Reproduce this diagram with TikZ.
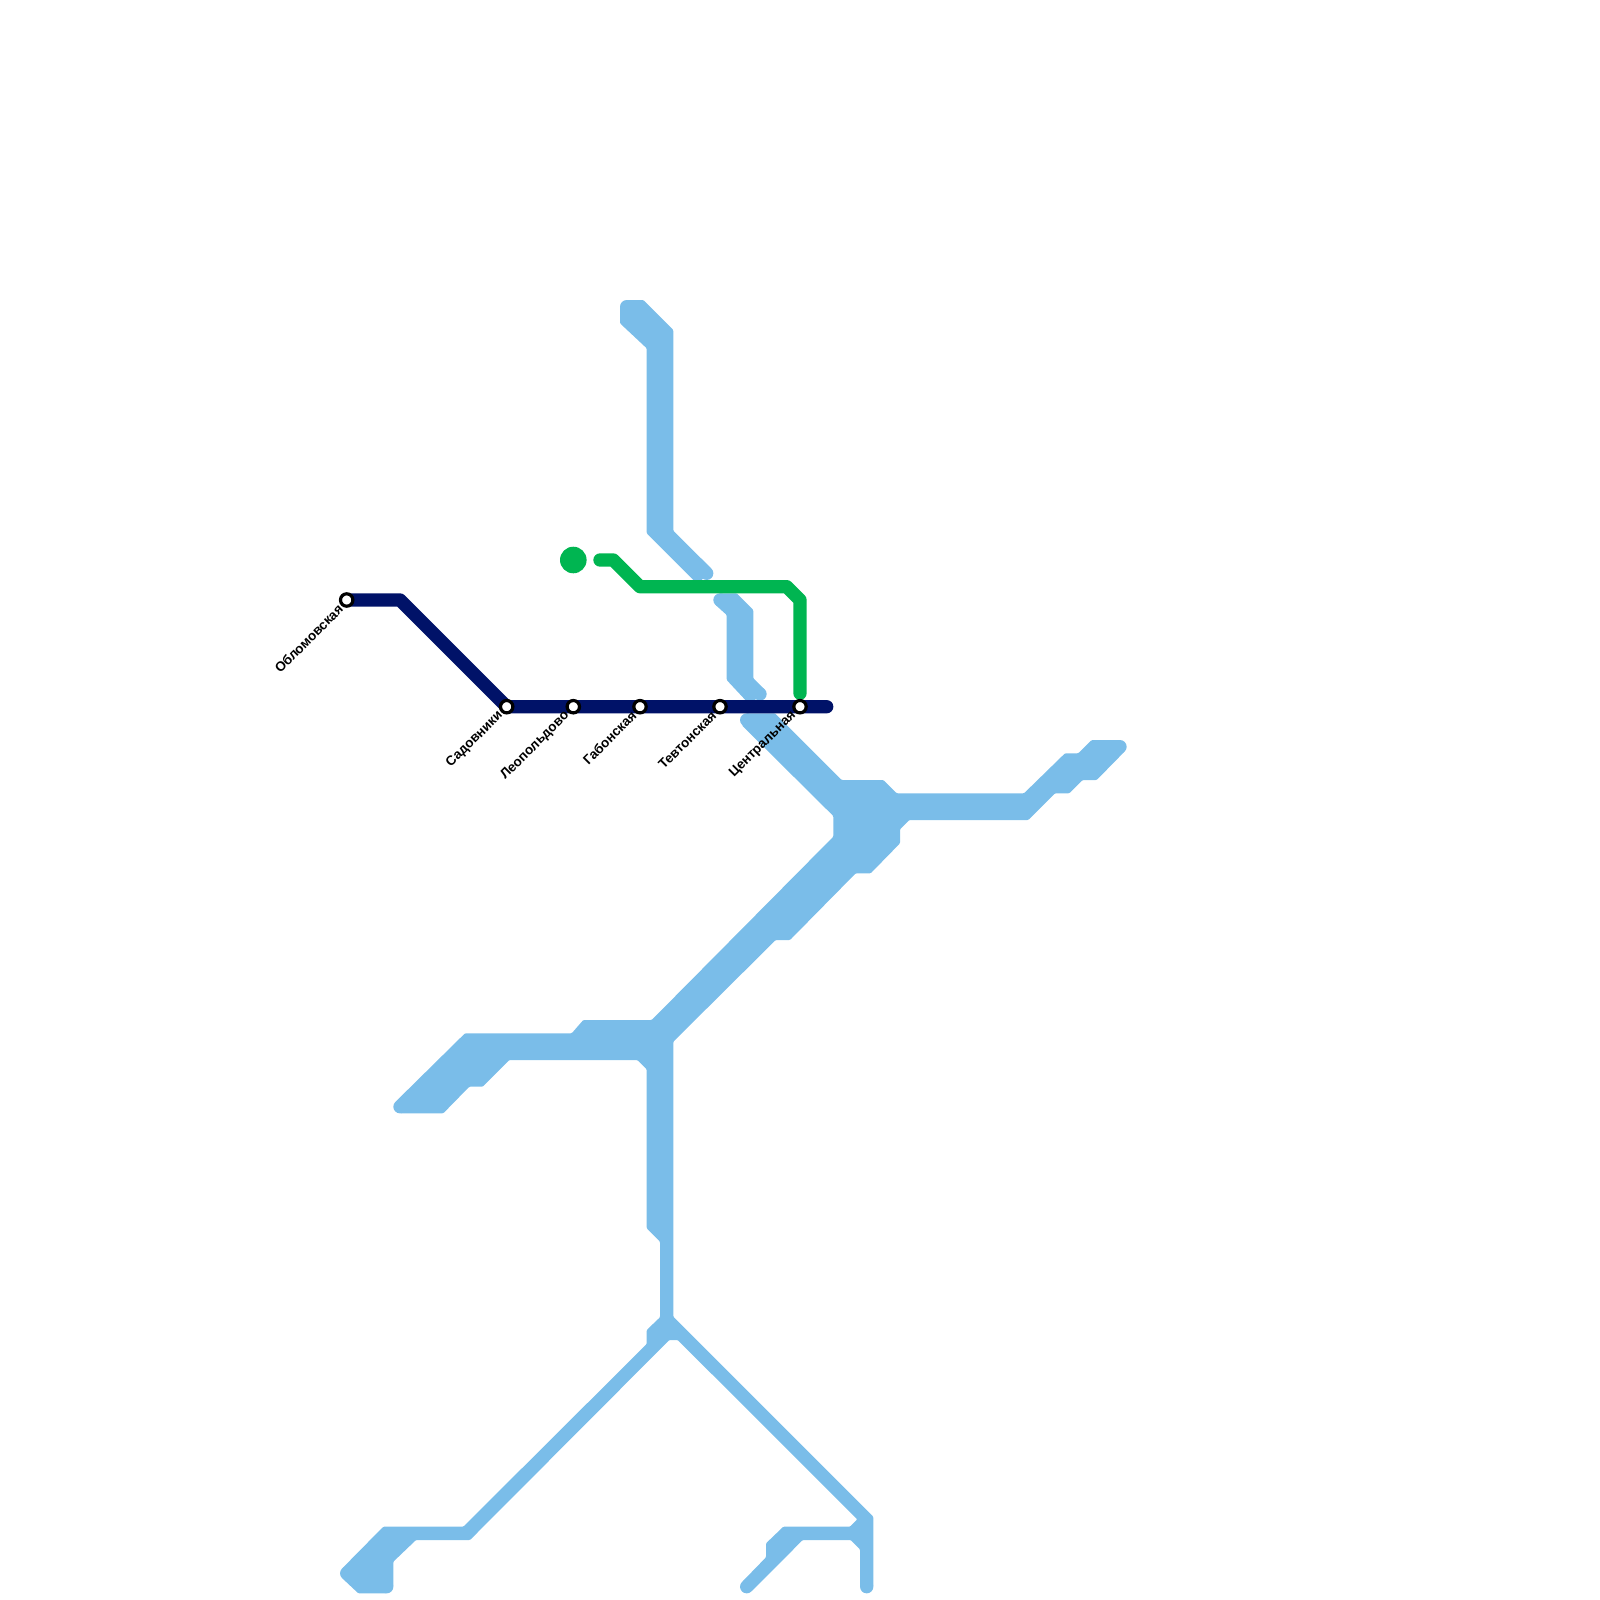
\documentclass[tikz,border=0pt]{standalone}
\usepackage{fontspec}
\setmainfont{Liberation Sans}
\usepackage{xcolor}
\usepackage{tikz}
\usetikzlibrary{positioning, backgrounds}
\definecolor{skyblue}{RGB}{122, 189, 233}
\definecolor{navyline}{RGB}{0, 18, 104}
\definecolor{greenline}{RGB}{0, 181, 81}
\tikzset{
  bluearea/.style={fill=skyblue, rounded corners=1pt},
  navyroute/.style={draw=navyline, line width=13.33pt, line cap=round, line join=round},
  greenroute/.style={draw=greenline, line width=13.33pt, line cap=round, line join=round},
  stationdot/.style={circle, draw=black, fill=white, line width=3.2pt,
              minimum size=12.4pt, inner sep=0pt},
  stationlabel/.style={anchor=east, rotate=45, inner sep=0pt, xshift=-9pt, yshift=-0.5pt,
              font=\fontsize{13.4}{14}\selectfont\bfseries},
}
\begin{document}
\begin{tikzpicture}[x=1pt, y=-1pt]
  \useasboundingbox (0,0) rectangle (1600,1600);
  % Stations
  \node[stationdot] (oblomov) at (346.7,600) {};
  \node[stationdot] (sadovniki) at (506.7,706.7) {};
  \node[stationdot] (leopold) at (573.3,706.7) {};
  \node[stationdot] (gabon) at (640,706.7) {};
  \node[stationdot] (teuton) at (720,706.7) {};
  \node[stationdot] (central) at (800,706.7) {};
  % Labels
  \node[stationlabel] (oblomovlabel) at (oblomov) {Обломовская};
  \node[stationlabel] (sadovnikilabel) at (sadovniki) {Садовники};
  \node[stationlabel] (leopoldlabel) at (leopold) {Леопольдово};
  \node[stationlabel] (gabonlabel) at (gabon) {Габонская};
  \node[stationlabel] (teutonlabel) at (teuton) {Тевтонская};
  \node[stationlabel] (centrallabel) at (central) {Центральная};
  \begin{scope}[on background layer]
  % Blue network
  \fill[bluearea] (626.7,300) -- (643.3,300) -- (673.3,330) -- (673.3,530.7) -- (711.4,568.6)
    -- (700,582) -- (695,581.6) -- (646.7,533.3) -- (646.7,348.3) -- (620,323.3) -- (620,306.7) -- cycle;
  \fill[bluearea] (720,593.3) -- (736.7,593.3) -- (753.3,610) -- (753.3,678.3) -- (764.7,689.7)
    -- (750,705) -- (726.7,680) -- (726.7,615) -- (715.3,604.7) -- cycle;
  \fill[bluearea] (746.7,713.3) -- (775,713.3) -- (841.7,780) -- (883.3,780) -- (896.7,793.3)
    -- (1024,793.3) -- (1065,753.3) -- (1078.3,753.3) -- (1091.7,740) -- (1120,740)
    -- (1124.7,751.4) -- (1096.7,780) -- (1082.7,780) -- (1069.3,793.3) -- (1055,793.3)
    -- (1028.3,820) -- (909.3,820) -- (900,829.3) -- (900,843.3) -- (870.7,873.3)
    -- (855.7,873.3) -- (790,940) -- (775.7,940) -- (673.3,1041.7) -- (673.3,1316.7)
    -- (873.3,1516.7) -- (873.3,1586.7) -- (860,1586.7) -- (860,1549.3) -- (850.7,1540)
    -- (802.7,1540) -- (751.4,1591.4) -- (742,1582) -- (766,1557.3) -- (766,1543.3)
    -- (783.3,1526.7) -- (850,1526.7) -- (857.3,1519.3) -- (677.7,1340) -- (669.3,1340)
    -- (470,1540) -- (416,1540) -- (393.3,1561.7) -- (393.3,1586.7) -- (386.7,1593.3)
    -- (358.3,1593.3) -- (342,1578) -- (342,1568.6) -- (383.3,1526.7) -- (463.3,1526.7)
    -- (646.7,1344) -- (646.7,1330) -- (660,1317.3) -- (660,1241.7) -- (646.7,1228.3)
    -- (646.7,1069.3) -- (637.3,1060) -- (509.3,1060) -- (482.7,1086.7) -- (469.3,1086.7)
    -- (443.3,1113.3) -- (400,1113.3) -- (395.3,1102) -- (465,1033.3) -- (571.7,1033.3)
    -- (583.3,1020) -- (651.7,1020) -- (833.3,836.7) -- (833.3,816) -- (742,725.4) -- cycle;
  % Round line ends
  \foreach \capx/\capy in {626.7/306.7, 706.7/573.3, 720/600, 760/694, 746.7/720, 1120/746.7,
      400/1106.7, 346.7/1573.3, 386.7/1586.7, 746.7/1586.7, 866.7/1586.7}{
    \fill[skyblue] (\capx,\capy) circle (6.67);
  }
  % Green line
  \node[circle, fill=greenline, minimum size=26.6pt, inner sep=0pt] (greendot) at (573.3,560) {};
  \coordinate (gr1) at (600,560);
  \coordinate (gr2) at (613.3,560);
  \coordinate (gr3) at (640,586.7);
  \coordinate (gr4) at (786.7,586.7);
  \coordinate (gr5) at (800,600);
  \coordinate (gr6) at (800,693.3);
  \draw[greenroute] (gr1) -- (gr2) -- (gr3) -- (gr4) -- (gr5) -- (gr6);
  % Navy line
  \coordinate (nv1) at (400,600);
  \coordinate (nvend) at (826.7,706.7);
  \draw[navyroute] (oblomov.center) -- (nv1) -- (sadovniki.center) -- (nvend);
  \end{scope}
\end{tikzpicture}
\end{document}
